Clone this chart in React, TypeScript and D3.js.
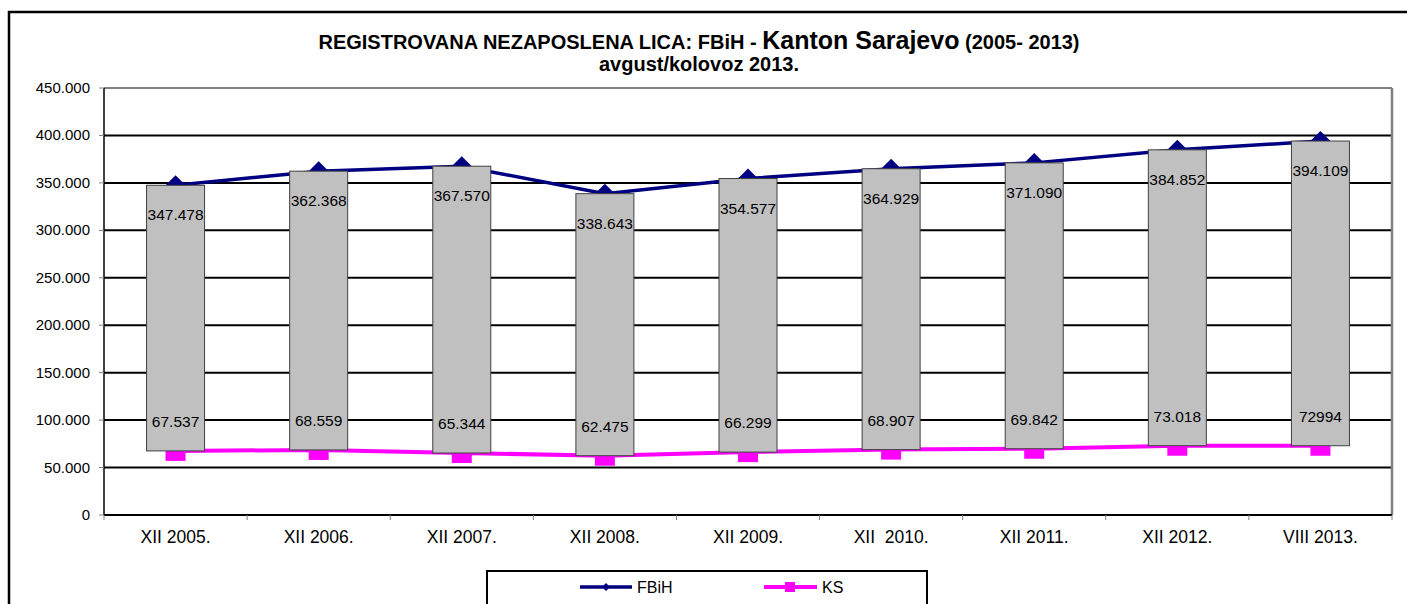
import React from "react";
import * as d3 from "d3";

// registered unemployed persons, FBiH vs Kanton Sarajevo
const categories = ["XII 2005.", "XII 2006.", "XII 2007.", "XII 2008.", "XII 2009.", "XII  2010.", "XII 2011.", "XII 2012.", "VIII 2013."];
const fbih = [347478, 362368, 367570, 338643, 354577, 364929, 371090, 384852, 394109];
const ks = [67537, 68559, 65344, 62475, 66299, 68907, 69842, 73018, 72994];
const fbihLabels = ["347.478", "362.368", "367.570", "338.643", "354.577", "364.929", "371.090", "384.852", "394.109"];
const ksLabels = ["67.537", "68.559", "65.344", "62.475", "66.299", "68.907", "69.842", "73.018", "72994"];
const yTicks = [0, 50000, 100000, 150000, 200000, 250000, 300000, 350000, 400000, 450000];
const yTickLabels = ["0", "50.000", "100.000", "150.000", "200.000", "250.000", "300.000", "350.000", "400.000", "450.000"];

const W = 1407;
const H = 604;
const left = 104;
const right = 1392;
const top = 88;
const bottom = 515;

const font = "'Liberation Sans', Arial, sans-serif";

export default function App() {
  const x = d3.scaleBand().domain(categories).range([left, right]);
  const y = d3.scaleLinear().domain([0, 450000]).range([bottom, top]);
  const cx = (c: string) => (x(c) ?? 0) + x.bandwidth() / 2;
  const barW = 58;

  const line = d3
    .line<number>()
    .x((_, i) => cx(categories[i]))
    .y((d) => y(d));

  const diamond = (px: number, py: number, r: number) =>
    `M${px},${py - r}L${px + r},${py}L${px},${py + r}L${px - r},${py}Z`;

  return (
    <svg width={W} height={H} style={{ position: "absolute", left: 0, top: 0 }}>
      <rect x={0} y={0} width={W} height={H} fill="#fff" />
      {/* outer chart frame */}
      <rect x={9} y={12} width={W + 20} height={H + 20} fill="none" stroke="#000" strokeWidth={2.5} />

      {/* title */}
      <text x={699} y={49} textAnchor="middle" fontFamily={font} fontWeight="bold" fontSize={20} fill="#000">
        REGISTROVANA NEZAPOSLENA LICA: FBiH -{" "}
        <tspan fontSize={25}>Kanton Sarajevo</tspan> (2005- 2013)
      </text>
      <text x={699} y={71} textAnchor="middle" fontFamily={font} fontWeight="bold" fontSize={20} fill="#000">
        avgust/kolovoz 2013.
      </text>

      {/* gridlines */}
      {yTicks.slice(1).map((t) => (
        <line key={t} x1={left} x2={right} y1={y(t)} y2={y(t)} stroke="#000" strokeWidth={2} />
      ))}
      {/* plot border top/right */}
      <line x1={left} x2={right} y1={top} y2={top} stroke="#808080" strokeWidth={2} />
      <line x1={right} x2={right} y1={top} y2={bottom} stroke="#808080" strokeWidth={2.5} />

      {/* y axis */}
      <line x1={left} x2={left} y1={top} y2={bottom} stroke="#000" strokeWidth={1.5} />
      {yTicks.map((t, i) => (
        <g key={t}>
          <line x1={left - 5} x2={left} y1={y(t)} y2={y(t)} stroke="#808080" strokeWidth={1} />
          <text x={90} y={y(t) + 5} textAnchor="end" fontFamily={font} fontSize={15} fill="#000">
            {yTickLabels[i]}
          </text>
        </g>
      ))}

      {/* x axis */}
      <line x1={left} x2={right} y1={bottom} y2={bottom} stroke="#000" strokeWidth={2} />
      {categories.map((c) => (
        <line key={"t" + c} x1={x(c) ?? 0} x2={x(c) ?? 0} y1={bottom} y2={bottom + 5} stroke="#808080" strokeWidth={1} />
      ))}
      <line x1={right} x2={right} y1={bottom} y2={bottom + 5} stroke="#808080" strokeWidth={1} />
      {categories.map((c) => (
        <text key={"l" + c} x={cx(c)} y={543} textAnchor="middle" fontFamily={font} fontSize={17.5} fill="#000" style={{ whiteSpace: "pre" }}>
          {c}
        </text>
      ))}

      {/* lines + markers */}
      <path d={line(fbih) ?? ""} fill="none" stroke="#000080" strokeWidth={3.5} />
      <path d={line(ks) ?? ""} fill="none" stroke="#FF00FF" strokeWidth={4} />
      {fbih.map((v, i) => (
        <path key={"d" + i} d={diamond(cx(categories[i]), y(v), 10)} fill="#000080" />
      ))}
      {ks.map((v, i) => (
        <rect key={"s" + i} x={cx(categories[i]) - 10} y={y(v) - 10} width={20} height={20} fill="#FF00FF" />
      ))}

      {/* up-down bars */}
      {categories.map((c, i) => (
        <rect
          key={"b" + c}
          x={cx(c) - barW / 2}
          y={y(fbih[i])}
          width={barW}
          height={y(ks[i]) - y(fbih[i])}
          fill="#C0C0C0"
          stroke="#404040"
          strokeWidth={1}
        />
      ))}

      {/* data labels */}
      {categories.map((c, i) => (
        <g key={"v" + c}>
          <text x={cx(c)} y={y(fbih[i]) + 35} textAnchor="middle" fontFamily={font} fontSize={15.5} fill="#000">
            {fbihLabels[i]}
          </text>
          <text x={cx(c)} y={y(ks[i]) - 24} textAnchor="middle" fontFamily={font} fontSize={15.5} fill="#000">
            {ksLabels[i]}
          </text>
        </g>
      ))}

      {/* legend */}
      <rect x={487} y={571} width={440} height={60} fill="#fff" stroke="#000" strokeWidth={2} />
      <line x1={580} x2={632} y1={587} y2={587} stroke="#000080" strokeWidth={3.5} />
      <path d={diamond(606, 587, 4)} fill="#000080" />
      <text x={637} y={593} fontFamily={font} fontSize={16} fill="#000">FBiH</text>
      <line x1={764} x2={817} y1={587} y2={587} stroke="#FF00FF" strokeWidth={4} />
      <rect x={785} y={582} width={10} height={10} fill="#FF00FF" />
      <text x={822} y={593} fontFamily={font} fontSize={16} fill="#000">KS</text>
    </svg>
  );
}
